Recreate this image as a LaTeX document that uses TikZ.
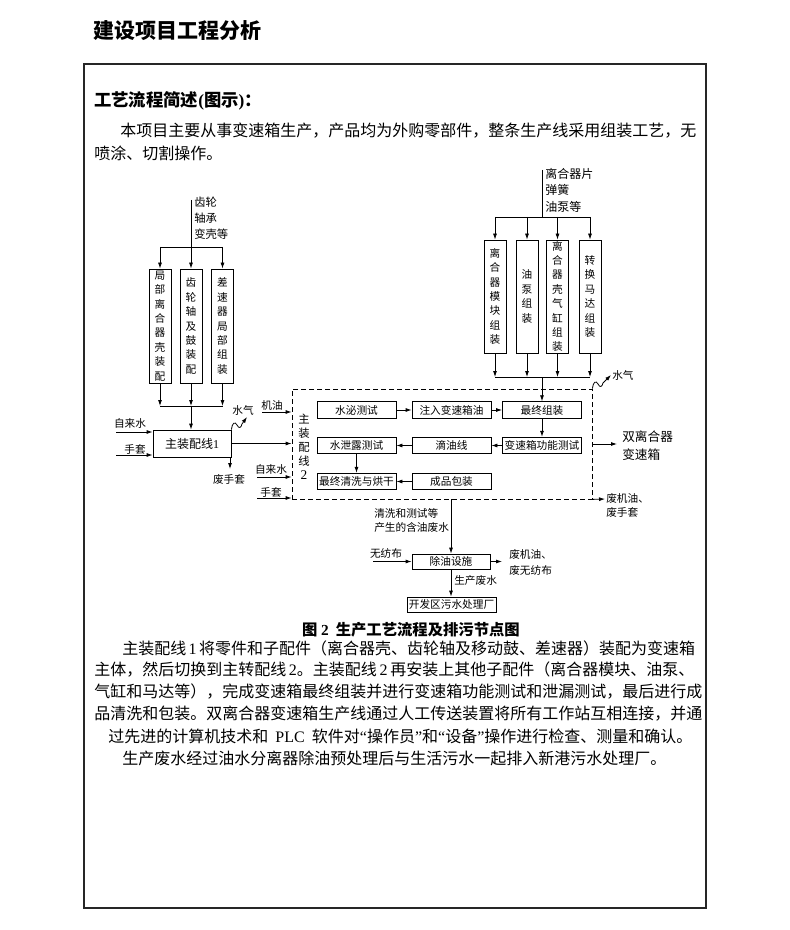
\documentclass[tikz,border=0pt]{standalone}
\usepackage{fontspec}
\setmainfont{Noto Sans CJK SC}
\newfontfamily\lat{Liberation Serif}
\usetikzlibrary{arrows.meta}
\XeTeXlinebreaklocale "zh"
\XeTeXlinebreakskip=0pt plus 2pt minus 1pt
\begin{document}
\begin{tikzpicture}[x=0.75pt,y=-0.75pt,
  every node/.style={inner sep=0pt},
  ln/.style={line width=0.6pt},
  arr/.style={ln,-{Latex[length=4.5pt,width=3pt]}},
  box/.style={draw,ln,font=\fontsize{8}{10}\selectfont},
  vbox/.style={draw,ln,align=center,minimum width=16.5pt,font=\fontsize{8}{10.8}\selectfont},
  hbx/.style={box,minimum width=59.25pt,minimum height=12.4pt},
  lbl/.style={font=\fontsize{8}{10.5}\selectfont},
  body/.style={font=\fontsize{12}{16}\selectfont,anchor=west}
]
\useasboundingbox (0,0) rectangle (789,930);
% title and frame
\node[anchor=west,font=\fontsize{15.75}{18}\selectfont\bfseries] (title) at (93,31) {建设项目工程分析};
\draw[line width=0.9pt,black!85] (84,64) rectangle (706,908);
\node[anchor=west,font=\fontsize{13}{16}\selectfont\bfseries] (head) at (94,101) {工艺流程简述{\lat\bfseries (}图示{\lat\bfseries )}：};
\node[body] (p1) at (120,131) {\hbox to 430.5pt{本项目主要从事变速箱生产，产品均为外购零部件，整条生产线采用组装工艺，无}};
\node[body] (p2) at (94,153) {喷涂、切割操作。};

% left group
\node[vbox,minimum height=85.5pt] (L1) at (160,326) {局\\部\\离\\合\\器\\壳\\装\\配};
\node[vbox,minimum height=85.5pt] (L2) at (191,326) {齿\\轮\\轴\\及\\鼓\\装\\配};
\node[vbox,minimum height=85.5pt] (L3) at (222.5,326) {差\\速\\器\\局\\部\\组\\装};
\node[anchor=north west,align=left,font=\fontsize{8.5}{12}\selectfont] (lintxt) at (194,197) {齿轮\\轴承\\变壳等};
\node[box,minimum width=58.5pt,minimum height=20.25pt,font=\fontsize{9}{11}\selectfont] (M1) at (192,443.5) {主装配线{\lat 1}};

% right group
\node[vbox,minimum height=84.75pt] (R1) at (495,296.5) {离\\合\\器\\模\\块\\组\\装};
\node[vbox,minimum height=84.75pt] (R2) at (527,296.5) {油\\泵\\组\\装};
\node[vbox,minimum height=84.75pt] (R3) at (557.5,296.5) {离\\合\\器\\壳\\气\\缸\\组\\装};
\node[vbox,minimum height=84.75pt] (R4) at (590,296.5) {转\\换\\马\\达\\组\\装};
\node[anchor=north west,align=left,font=\fontsize{9}{12.4}\selectfont] (rintxt) at (545,168) {离合器片\\弹簧\\油泵等};

% dashed main line 2
\node[draw,ln,dash pattern=on 4pt off 2pt,minimum width=225pt,minimum height=82.5pt] (D) at (442,444) {};
\node[align=center,font=\fontsize{8.5}{10.5}\selectfont] (ML2) at (304,446.5) {主\\装\\配\\线\\{\lat\fontsize{10}{10.5}\selectfont 2}};
\node[hbx] (B11) at (356.5,410) {水泌测试};
\node[hbx] (B12) at (451.5,410) {注入变速箱油};
\node[hbx] (B13) at (542,410) {最终组装};
\node[hbx] (B21) at (356.5,445.5) {水泄露测试};
\node[hbx] (B22) at (451.5,445.5) {滴油线};
\node[hbx] (B23) at (542,445.5) {变速箱功能测试};
\node[hbx] (B31) at (356.5,481.5) {最终清洗与烘干};
\node[hbx] (B32) at (451.5,481.5) {成品包装};

% lower boxes
\node[box,minimum width=58.5pt,minimum height=11.25pt] (W) at (451,561.5) {除油设施};
\node[box,minimum width=66.75pt,minimum height=11.25pt] (K) at (451.5,604.5) {开发区污水处理厂};

% labels
\node[lbl] (tzls1) at (130,423) {自来水};
\node[lbl] (tst1) at (135,449) {手套};
\node[lbl] (sq1) at (243,410) {水气};
\node[lbl] (twst) at (229,479) {废手套};
\node[lbl] (tjy) at (272,405) {机油};
\node[lbl] (tzls2) at (271,469) {自来水};
\node[lbl] (tst2) at (271,492) {手套};
\node[lbl,anchor=west] (sq2) at (612,375) {水气};
\node[anchor=west,align=left,font=\fontsize{9.5}{13.5}\selectfont] (tout) at (622,446) {双离合器\\变速箱};
\node[lbl,anchor=north west,align=left] (twr) at (606,493) {废机油、\\废手套};
\node[lbl,anchor=north west,align=left] (tww) at (374,508) {清洗和测试等\\产生的含油废水};
\node[lbl] (twfb) at (386,553) {无纺布};
\node[lbl,anchor=north west,align=left,font=\fontsize{8}{12}\selectfont] (two) at (509,549) {废机油、\\废无纺布};
\node[lbl,anchor=west] (tscfs) at (454,580) {生产废水};

% coordinates
\coordinate (lin) at (191,200);
\coordinate (lsp) at (191,247);
\coordinate (ljn) at (191,406);
\coordinate (rin) at (542,170);
\coordinate (rsp) at (542,217);
\coordinate (rjn) at (542,377);
\coordinate (zls1) at (116,432);
\coordinate (st1) at (116,455);
\coordinate (wst) at (230,469);
\coordinate (jy) at (262,412);
\coordinate (zls2) at (257,477);
\coordinate (st2) at (257,498);
\coordinate (outp) at (617,444);
\coordinate (wr) at (605,499);
\coordinate (wfb) at (373,561.5);
\coordinate (wo) at (502,561.5);

% left connectors
\draw[ln] (lin) -- (lsp);
\draw[ln] (lsp -| L1) -- (lsp -| L3);
\foreach \b in {L1,L2,L3} {\draw[arr] (lsp -| \b) -- (\b.north);}
\foreach \b in {L1,L2,L3} {\draw[arr] (\b.south) -- (ljn -| \b);}
\draw[ln] (ljn -| L1) -- (ljn -| L3);
\draw[arr] (ljn) -- (ljn |- M1.north);
\draw[arr] (zls1) -- (zls1 -| M1.west);
\draw[arr] (st1) -- (st1 -| M1.west);
\draw[arr] (M1.north east) .. controls (232,423) and (235,421) .. (237,425) .. controls (239,429) and (241,428) .. (242,424) -- (247,417);
\draw[arr] (M1.east) -- (M1.east -| D.west);
\draw[arr] (wst |- M1.south) -- (wst);

% inputs to D
\draw[arr] (jy) -- (jy -| D.west);
\draw[arr] (zls2) -- (zls2 -| D.west);
\draw[arr] (st2) -- (st2 -| D.west);

% inner arrows
\draw[arr] (B11) -- (B12);
\draw[arr] (B12) -- (B13);
\draw[arr] (B13) -- (B23);
\draw[arr] (B23) -- (B22);
\draw[arr] (B22) -- (B21);
\draw[arr] (B21) -- (B31);
\draw[arr] (B32) -- (B31);

% right connectors
\draw[ln] (rin) -- (rsp);
\draw[ln] (rsp -| R1) -- (rsp -| R4);
\foreach \b in {R1,R2,R3,R4} {\draw[arr] (rsp -| \b) -- (\b.north);}
\foreach \b in {R1,R2,R3,R4} {\draw[arr] (\b.south) -- (rjn -| \b);}
\draw[ln] (rjn -| R1) -- (rjn -| R4);
\draw[arr] (rjn) -- (B13.north);
\draw[arr] (D.north east) .. controls (593,382) and (596,380) .. (598,384) .. controls (600,388) and (602,387) .. (603,383) -- (611,375);
\draw[arr] (D.east) -- (outp);
\draw[arr] (D.south east) -- (wr);

% lower connectors
\draw[arr] (W.north |- D.south) -- (W.north);
\draw[arr] (wfb) -- (W.west);
\draw[arr] (W.east) -- (wo);
\draw[arr] (W.south) -- (W.south |- K.north);

% caption and text
\node[font=\fontsize{11.5}{14}\selectfont\bfseries] (cap) at (411,630) {图 {\lat\bfseries 2}\ \ 生产工艺流程及排污节点图};
\node[body] (q1) at (122,648) {\hbox to 429pt{主装配线 {\lat 1} 将零件和子配件（离合器壳、齿轮轴及移动鼓、差速器）装配为变速箱}};
\node[body] (q2) at (94,670) {\hbox to 450pt{主体，然后切换到主转配线 {\lat 2}。主装配线 {\lat 2} 再安装上其他子配件（离合器模块、油泵、}};
\node[body] (q3) at (94,692) {\hbox to 450pt{气缸和马达等），完成变速箱最终组装并进行变速箱功能测试和泄漏测试，最后进行成}};
\node[body] (q4) at (94,714) {\hbox to 450pt{品清洗和包装。双离合器变速箱生产线通过人工传送装置将所有工作站互相连接，并通}};
\node[body] (q5) at (108,736) {过先进的计算机技术和\ \ {\lat PLC}\ \ 软件对{\lat “}操作员{\lat ”}和{\lat “}设备{\lat ”}操作进行检查、测量和确认。};
\node[body] (q6) at (122,758) {生产废水经过油水分离器除油预处理后与生活污水一起排入新港污水处理厂。};
\end{tikzpicture}
\end{document}
